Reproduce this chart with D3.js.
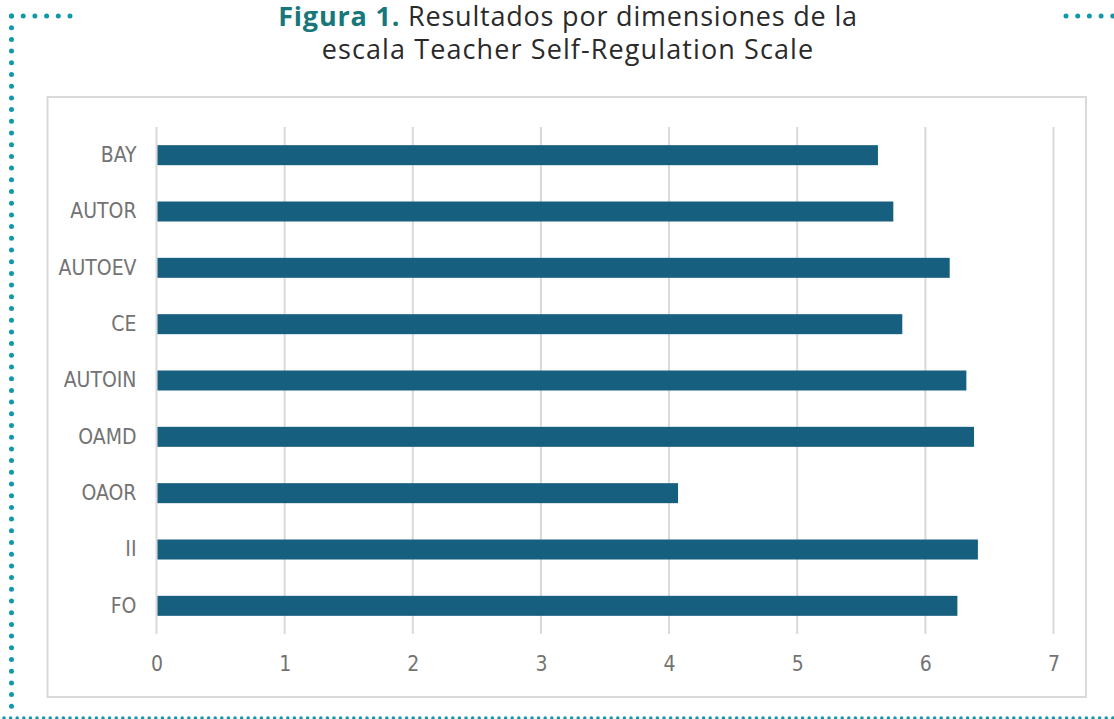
<!DOCTYPE html>
<html>
<head>
<meta charset="utf-8">
<script src="https://cdn.jsdelivr.net/npm/d3@7"></script>
<style>
  body { margin: 0; background: #fff; }
  svg { display: block; }
</style>
</head>
<body>
<svg id="chart" width="1114" height="719"></svg>
<script>
// data
const categories = ["BAY", "AUTOR", "AUTOEV", "CE", "AUTOIN", "OAMD", "OAOR", "II", "FO"];
const values = [5.63, 5.75, 6.19, 5.82, 6.32, 6.38, 4.07, 6.41, 6.25];
const xTicks = [0, 1, 2, 3, 4, 5, 6, 7];

const width = 1114;
const height = 719;
const svg = d3.select("#chart");

const teal = "#1199a9";
const barColor = "#175f7f";
const gridColor = "#d9d9d9";
const labelFont = "'Liberation Sans Narrow', 'DejaVu Sans Condensed', Roboto, sans-serif";

// dotted frame around the figure
const dots = (x1, y1, x2, y2, w, gap) => svg.append("line")
  .attr("x1", x1).attr("y1", y1).attr("x2", x2).attr("y2", y2)
  .attr("stroke", teal)
  .attr("stroke-width", w)
  .attr("stroke-linecap", "round")
  .attr("stroke-dasharray", `0 ${gap}`);

dots(11.5, 16, 70, 16, 5, 11.7);
dots(11.5, 16, 11.5, 712, 5, 11.7);
dots(1066, 16, 1120, 16, 5, 11.7);
dots(4, 718, 1114, 718, 3.5, 6.6);

// title
const title = svg.append("text")
  .attr("x", 568)
  .attr("y", 25.5)
  .attr("text-anchor", "middle")
  .attr("font-family", "'Open Sans', sans-serif")
  .attr("font-size", 27)
  .attr("letter-spacing", 0.8)
  .attr("fill", "#2a2a2a");
title.append("tspan").attr("font-weight", 700).attr("fill", "#17777b").text("Figura 1.");
title.append("tspan").text(" Resultados por dimensiones de la");

svg.append("text")
  .attr("x", 568)
  .attr("y", 58.5)
  .attr("text-anchor", "middle")
  .attr("font-family", "'Open Sans', sans-serif")
  .attr("font-size", 27)
  .attr("letter-spacing", 1.1)
  .attr("fill", "#2a2a2a")
  .text("escala Teacher Self-Regulation Scale");

// chart area border
svg.append("rect")
  .attr("x", 47.5)
  .attr("y", 97)
  .attr("width", 1038.5)
  .attr("height", 600)
  .attr("fill", "none")
  .attr("stroke", gridColor)
  .attr("stroke-width", 2);

const margin = { left: 156.5, right: 60.5, top: 127, bottom: 85 };

const x = d3.scaleLinear()
  .domain([0, 7])
  .range([margin.left, width - margin.right]);

const y = d3.scaleBand()
  .domain(categories)
  .range([margin.top, height - margin.bottom])
  .paddingInner(0.645)
  .paddingOuter(0.3225);

// gridlines
svg.append("g")
  .selectAll("line")
  .data(xTicks)
  .join("line")
  .attr("x1", d => x(d))
  .attr("x2", d => x(d))
  .attr("y1", margin.top)
  .attr("y2", height - margin.bottom)
  .attr("stroke", gridColor)
  .attr("stroke-width", 2);

// bars
svg.append("g")
  .selectAll("rect")
  .data(values)
  .join("rect")
  .attr("x", x(0) + 1)
  .attr("y", (d, i) => y(categories[i]))
  .attr("width", d => x(d) - x(0) - 1)
  .attr("height", y.bandwidth())
  .attr("fill", barColor);

// x axis labels
const xAxis = svg.append("g")
  .attr("transform", `translate(0, ${height - margin.bottom})`)
  .call(d3.axisBottom(x).tickValues(xTicks).tickSize(0).tickPadding(22).tickFormat(d3.format("d")));
xAxis.select(".domain").remove();
xAxis.selectAll("text")
  .attr("font-family", labelFont)
  .attr("font-size", 21)
  .attr("fill", "#737373");

// y axis labels
const yAxis = svg.append("g")
  .attr("transform", `translate(${margin.left}, 0)`)
  .call(d3.axisLeft(y).tickSize(0).tickPadding(20));
yAxis.select(".domain").remove();
yAxis.selectAll("text")
  .attr("font-family", labelFont)
  .attr("font-size", 21)
  .attr("fill", "#737373");
</script>
</body>
</html>
